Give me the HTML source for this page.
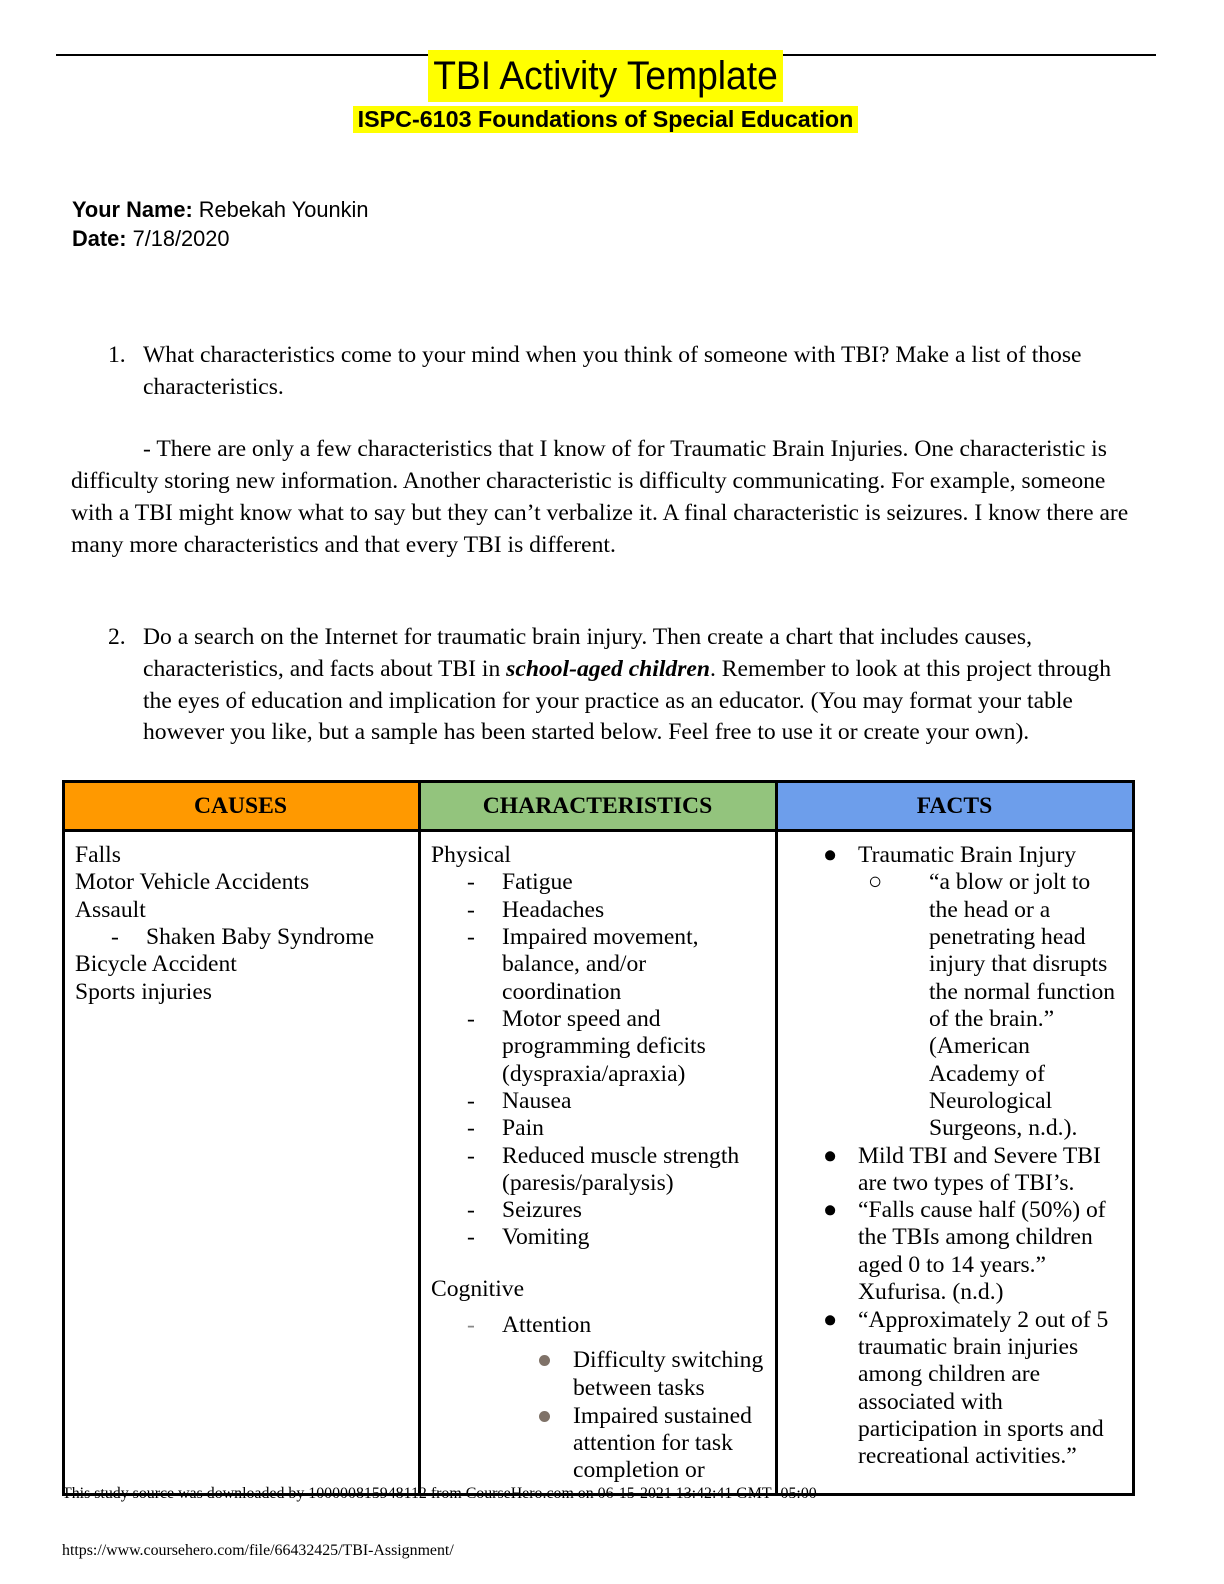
<!DOCTYPE html>
<html><head><meta charset="utf-8"><style>
body{margin:0;background:#fff;}
#p{position:relative;width:1224px;height:1584px;overflow:hidden;font-family:"Liberation Serif",serif;color:#000;}
.t{position:absolute;white-space:nowrap;font-size:23.6px;line-height:26px;}
.s{font-family:"Liberation Sans",sans-serif;}
.box{position:absolute;}
</style></head><body><div id="p">
<div class="box" style="left:56px;top:54px;width:1100px;height:2px;background:#000"></div>
<div class="box" style="left:428px;top:50px;width:355px;height:52px;background:#ff0"></div>
<div class="t s" style="left:408px;top:50px;width:395px;text-align:center;font-size:40px;line-height:52px;transform:scaleX(0.93);">TBI Activity Template</div>
<div class="box" style="left:353px;top:106px;width:505px;height:27px;background:#ff0"></div>
<div class="t s" style="left:333px;top:106px;width:545px;text-align:center;font-size:23.3px;line-height:27px;font-weight:bold;">ISPC-6103 Foundations of Special Education</div>
<div class="t s" style="left:72px;top:197px;font-size:21.8px;"><b>Your Name:</b> Rebekah Younkin</div>
<div class="t s" style="left:72px;top:226px;font-size:21.8px;"><b>Date:</b> 7/18/2020</div>

<div class="t" style="left:108px;top:342px;">1.</div>
<div class="t" style="left:143px;top:342px;">What characteristics come to your mind when you think of someone with TBI? Make a list of those</div>
<div class="t" style="left:143px;top:374px;">characteristics.</div>
<div class="t" style="left:143px;top:436px;">- There are only a few characteristics that I know of for Traumatic Brain Injuries. One characteristic is</div>
<div class="t" style="left:71px;top:468px;">difficulty storing new information. Another characteristic is difficulty communicating. For example, someone</div>
<div class="t" style="left:71px;top:500px;">with a TBI might know what to say but they can’t verbalize it. A final characteristic is seizures. I know there are</div>
<div class="t" style="left:71px;top:532px;">many more characteristics and that every TBI is different.</div>

<div class="t" style="left:108px;top:624px;">2.</div>
<div class="t" style="left:143px;top:624px;">Do a search on the Internet for traumatic brain injury. Then create a chart that includes causes,</div>
<div class="t" style="left:143px;top:656px;">characteristics, and facts about TBI in <b><i>school-aged children</i></b>. Remember to look at this project through</div>
<div class="t" style="left:143px;top:688px;">the eyes of education and implication for your practice as an educator. (You may format your table</div>
<div class="t" style="left:143px;top:719px;">however you like, but a sample has been started below. Feel free to use it or create your own).</div>

<div class="box" style="left:62px;top:780px;width:357px;height:50px;background:#ff9900"></div>
<div class="box" style="left:419px;top:780px;width:357px;height:50px;background:#93c47d"></div>
<div class="box" style="left:776px;top:780px;width:357px;height:50px;background:#6d9eeb"></div>
<div class="box" style="left:62px;top:780px;width:1067px;height:710px;border:3px solid #000;"></div>
<div class="box" style="left:62px;top:829px;width:1071px;height:3px;background:#000"></div>
<div class="box" style="left:418px;top:780px;width:3px;height:714px;background:#000"></div>
<div class="box" style="left:775px;top:780px;width:3px;height:714px;background:#000"></div>
<div class="t" style="left:62px;top:793px;width:357px;text-align:center;font-weight:bold;font-size:23.6px;">CAUSES</div>
<div class="t" style="left:419px;top:793px;width:357px;text-align:center;font-weight:bold;font-size:23.6px;">CHARACTERISTICS</div>
<div class="t" style="left:776px;top:793px;width:357px;text-align:center;font-weight:bold;font-size:23.6px;">FACTS</div>

<div class="t" style="left:75px;top:842px;">Falls</div>
<div class="t" style="left:75px;top:869px;">Motor Vehicle Accidents</div>
<div class="t" style="left:75px;top:897px;">Assault</div>
<div class="t" style="left:111px;top:924px;">-</div><div class="t" style="left:146px;top:924px;">Shaken Baby Syndrome</div>
<div class="t" style="left:75px;top:951px;">Bicycle Accident</div>
<div class="t" style="left:75px;top:979px;">Sports injuries</div>

<div class="t" style="left:431px;top:842px;">Physical</div>
<div class="t" style="left:467px;top:869px;">-</div><div class="t" style="left:502px;top:869px;">Fatigue</div>
<div class="t" style="left:467px;top:897px;">-</div><div class="t" style="left:502px;top:897px;">Headaches</div>
<div class="t" style="left:467px;top:924px;">-</div><div class="t" style="left:502px;top:924px;">Impaired movement,</div>
<div class="t" style="left:502px;top:951px;">balance, and/or</div>
<div class="t" style="left:502px;top:979px;">coordination</div>
<div class="t" style="left:467px;top:1006px;">-</div><div class="t" style="left:502px;top:1006px;">Motor speed and</div>
<div class="t" style="left:502px;top:1033px;">programming deficits</div>
<div class="t" style="left:502px;top:1061px;">(dyspraxia/apraxia)</div>
<div class="t" style="left:467px;top:1088px;">-</div><div class="t" style="left:502px;top:1088px;">Nausea</div>
<div class="t" style="left:467px;top:1115px;">-</div><div class="t" style="left:502px;top:1115px;">Pain</div>
<div class="t" style="left:467px;top:1143px;">-</div><div class="t" style="left:502px;top:1143px;">Reduced muscle strength</div>
<div class="t" style="left:502px;top:1170px;">(paresis/paralysis)</div>
<div class="t" style="left:467px;top:1197px;">-</div><div class="t" style="left:502px;top:1197px;">Seizures</div>
<div class="t" style="left:467px;top:1224px;">-</div><div class="t" style="left:502px;top:1224px;">Vomiting</div>
<div class="t" style="left:431px;top:1276px;">Cognitive</div>
<div class="t" style="left:467px;top:1312px;color:#888;">-</div><div class="t" style="left:502px;top:1312px;">Attention</div>
<div class="box" style="left:539px;top:1355px;width:11px;height:11px;border-radius:50%;background:#7f7268"></div>
<div class="t" style="left:573px;top:1347px;">Difficulty switching</div>
<div class="t" style="left:573px;top:1375px;">between tasks</div>
<div class="box" style="left:539px;top:1411px;width:11px;height:11px;border-radius:50%;background:#7f7268"></div>
<div class="t" style="left:573px;top:1403px;">Impaired sustained</div>
<div class="t" style="left:573px;top:1430px;">attention for task</div>
<div class="t" style="left:573px;top:1457px;">completion or</div>

<div class="t" style="left:823px;top:842px;">●</div><div class="t" style="left:858px;top:842px;">Traumatic Brain Injury</div>
<div class="t" style="left:868px;top:869px;">○</div><div class="t" style="left:929px;top:869px;">“a blow or jolt to</div>
<div class="t" style="left:929px;top:897px;">the head or a</div>
<div class="t" style="left:929px;top:924px;">penetrating head</div>
<div class="t" style="left:929px;top:951px;">injury that disrupts</div>
<div class="t" style="left:929px;top:979px;">the normal function</div>
<div class="t" style="left:929px;top:1006px;">of the brain.”</div>
<div class="t" style="left:929px;top:1033px;">(American</div>
<div class="t" style="left:929px;top:1061px;">Academy of</div>
<div class="t" style="left:929px;top:1088px;">Neurological</div>
<div class="t" style="left:929px;top:1115px;">Surgeons, n.d.).</div>
<div class="t" style="left:823px;top:1143px;">●</div><div class="t" style="left:858px;top:1143px;">Mild TBI and Severe TBI</div>
<div class="t" style="left:858px;top:1170px;">are two types of TBI’s.</div>
<div class="t" style="left:823px;top:1197px;">●</div><div class="t" style="left:858px;top:1197px;">“Falls cause half (50%) of</div>
<div class="t" style="left:858px;top:1224px;">the TBIs among children</div>
<div class="t" style="left:858px;top:1252px;">aged 0 to 14 years.”</div>
<div class="t" style="left:858px;top:1279px;">Xufurisa. (n.d.)</div>
<div class="t" style="left:823px;top:1307px;">●</div><div class="t" style="left:858px;top:1307px;">“Approximately 2 out of 5</div>
<div class="t" style="left:858px;top:1334px;">traumatic brain injuries</div>
<div class="t" style="left:858px;top:1361px;">among children are</div>
<div class="t" style="left:858px;top:1389px;">associated with</div>
<div class="t" style="left:858px;top:1416px;">participation in sports and</div>
<div class="t" style="left:858px;top:1443px;">recreational activities.”</div>

<div class="t" style="left:62px;top:1484px;font-size:15.9px;line-height:20px;">This study source was downloaded by 100000815948112 from CourseHero.com on 06-15-2021 13:42:41 GMT -05:00</div>
<div class="t" style="left:62px;top:1541px;font-size:15.9px;line-height:20px;">https://www.coursehero.com/file/66432425/TBI-Assignment/</div>
</div></body></html>
